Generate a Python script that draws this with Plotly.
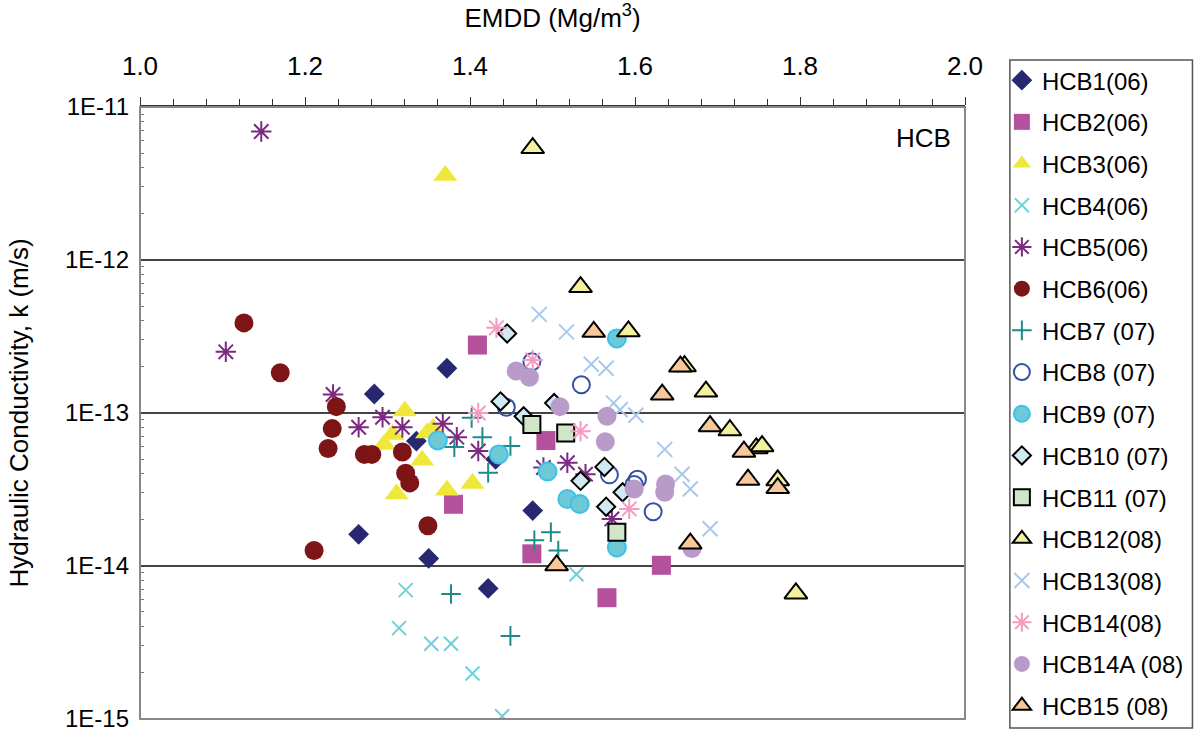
import plotly.graph_objects as go

# ---------------- data ----------------
names = ["HCB1(06)", "HCB2(06)", "HCB3(06)", "HCB4(06)", "HCB5(06)", "HCB6(06)",
         "HCB7 (07)", "HCB8 (07)", "HCB9 (07)", "HCB10 (07)", "HCB11 (07)",
         "HCB12(08)", "HCB13(08)", "HCB14(08)", "HCB14A (08)", "HCB15 (08)"]

HCB1_x = [1.284, 1.372, 1.335, 1.265, 1.350, 1.422, 1.476, 1.431]
HCB1_k = [1.33e-13, 1.96e-13, 6.55e-14, 1.61e-14, 1.12e-14, 7.13e-15, 2.30e-14, 4.98e-14]

HCB2_x = [1.409, 1.492, 1.380, 1.475, 1.566, 1.632]
HCB2_k = [2.78e-13, 6.6e-14, 2.53e-14, 1.20e-14, 6.2e-15, 1.01e-14]

HCB3_x = [1.370, 1.321, 1.306, 1.296, 1.342, 1.311, 1.372, 1.403, 1.348, 1.355]
HCB3_k = [3.56e-12, 1.03e-13, 7.24e-14, 6.22e-14, 4.91e-14, 2.95e-14, 3.13e-14, 3.46e-14, 7.41e-14, 7.9e-14]

HCB4_x = [1.322, 1.314, 1.353, 1.377, 1.403, 1.439, 1.529]
HCB4_k = [6.95e-15, 3.92e-15, 3.10e-15, 3.10e-15, 1.98e-15, 1.04e-15, 8.83e-15]

HCB5_x = [1.147, 1.104, 1.234, 1.265, 1.294, 1.318, 1.367, 1.384, 1.410, 1.489, 1.518, 1.540, 1.572]
HCB5_k = [6.91e-12, 2.51e-13, 1.32e-13, 8.07e-14, 9.38e-14, 8.07e-14, 8.49e-14, 6.95e-14, 5.64e-14,
          4.40e-14, 4.73e-14, 3.98e-14, 2.03e-14]

HCB6_x = [1.126, 1.170, 1.238, 1.233, 1.228, 1.272, 1.281, 1.318, 1.322, 1.327, 1.349, 1.211]
HCB6_k = [3.88e-13, 1.83e-13, 1.10e-13, 7.9e-14, 5.86e-14, 5.36e-14, 5.36e-14, 5.56e-14, 4.03e-14,
          3.49e-14, 1.83e-14, 1.26e-14]

HCB7_x = [1.402, 1.415, 1.381, 1.422, 1.449, 1.478, 1.498, 1.507, 1.377, 1.449]
HCB7_k = [9.29e-14, 6.95e-14, 5.98e-14, 4.07e-14, 6.08e-14, 1.47e-14, 1.66e-14, 1.26e-14, 6.55e-15, 3.49e-15]

HCB8_x = [1.475, 1.535, 1.444, 1.569, 1.603, 1.599, 1.622]
HCB8_k = [2.16e-13, 1.53e-13, 1.09e-13, 3.94e-14, 3.69e-14, 3.41e-14, 2.26e-14]

HCB9_x = [1.578, 1.361, 1.435, 1.494, 1.518, 1.533, 1.578]
HCB9_k = [3.07e-13, 6.61e-14, 5.36e-14, 4.14e-14, 2.74e-14, 2.54e-14, 1.32e-14]

HCB10_x = [1.445, 1.437, 1.502, 1.465, 1.563, 1.534, 1.585, 1.565]
HCB10_k = [3.31e-13, 1.19e-13, 1.16e-13, 9.51e-14, 4.44e-14, 3.60e-14, 3.03e-14, 2.44e-14]

HCB11_x = [1.475, 1.516, 1.578]
HCB11_k = [8.40e-14, 7.41e-14, 1.66e-14]

HCB12_x = [1.476, 1.534, 1.592, 1.660, 1.686, 1.715, 1.747, 1.754, 1.773, 1.795]
HCB12_k = [5.39e-12, 6.65e-13, 3.42e-13, 2.02e-13, 1.38e-13, 7.71e-14, 5.87e-14, 6.07e-14, 3.63e-14, 6.61e-15]

HCB13_x = [1.484, 1.517, 1.547, 1.565, 1.574, 1.582, 1.601, 1.636, 1.657, 1.667, 1.691]
HCB13_k = [4.41e-13, 3.39e-13, 2.08e-13, 1.96e-13, 1.16e-13, 1.05e-13, 9.66e-14, 5.78e-14, 3.98e-14,
           3.18e-14, 1.75e-14]

HCB14_x = [1.432, 1.476, 1.410, 1.534, 1.593]
HCB14_k = [3.60e-13, 2.22e-13, 1.0e-13, 7.60e-14, 2.36e-14]

HCB14A_x = [1.456, 1.472, 1.509, 1.566, 1.564, 1.599, 1.637, 1.636, 1.669]
HCB14A_k = [1.88e-13, 1.71e-13, 1.10e-13, 9.51e-14, 6.49e-14, 3.18e-14, 3.43e-14, 3.03e-14, 1.30e-14]

HCB15_x = [1.550, 1.655, 1.633, 1.691, 1.732, 1.737, 1.773, 1.667, 1.505]
HCB15_k = [3.39e-13, 2.01e-13, 1.32e-13, 8.19e-14, 5.58e-14, 3.66e-14, 3.23e-14, 1.40e-14, 1.01e-14]

xs = [HCB1_x, HCB2_x, HCB3_x, HCB4_x, HCB5_x, HCB6_x, HCB7_x, HCB8_x, HCB9_x, HCB10_x,
      HCB11_x, HCB12_x, HCB13_x, HCB14_x, HCB14A_x, HCB15_x]
ks = [HCB1_k, HCB2_k, HCB3_k, HCB4_k, HCB5_k, HCB6_k, HCB7_k, HCB8_k, HCB9_k, HCB10_k,
      HCB11_k, HCB12_k, HCB13_k, HCB14_k, HCB14A_k, HCB15_k]

y_tickvals = [1e-15, 1e-14, 1e-13, 1e-12, 1e-11]
y_ticktext = ["1E-15", "1E-14", "1E-13", "1E-12", "1E-11"]
x_tickvals = [1.0, 1.2, 1.4, 1.6, 1.8, 2.0]
x_ticktext = ["1.0", "1.2", "1.4", "1.6", "1.8", "2.0"]

# ---------------- styles ----------------
styles = [
    dict(symbol="diamond", size=16, color="#27286f", line=dict(width=0)),
    dict(symbol="square", size=19, color="#b4509c", line=dict(width=0)),
    dict(symbol="triangle-up", size=21, color="#efe83a", line=dict(width=0)),
    dict(symbol="x-thin-open", size=14, color="#6fd0da", line=dict(width=2, color="#6fd0da")),
    dict(symbol="asterisk-open", size=17, color="#7b2a82", line=dict(width=2, color="#7b2a82")),
    dict(symbol="circle", size=19, color="#7d1516", line=dict(width=0)),
    dict(symbol="cross-thin-open", size=14, color="#1c8b8a", line=dict(width=2, color="#1c8b8a")),
    dict(symbol="circle-open", size=17, color="#3450a8", line=dict(width=2, color="#3450a8")),
    dict(symbol="circle", size=18, color="#6ec9d6", line=dict(width=2, color="#3cc0ea")),
    dict(symbol="diamond", size=14, color="#cfeaf2", line=dict(width=2, color="#000000")),
    dict(symbol="square", size=17, color="#cfe7c8", line=dict(width=2, color="#000000")),
    dict(symbol="triangle-up", size=20, color="#f3f09e", line=dict(width=2, color="#000000")),
    dict(symbol="x-thin-open", size=15, color="#a7c9ec", line=dict(width=2, color="#a7c9ec")),
    dict(symbol="asterisk-open", size=17, color="#f59bc2", line=dict(width=2, color="#f59bc2")),
    dict(symbol="circle", size=19, color="#b89bc9", line=dict(width=0)),
    dict(symbol="triangle-up", size=20, color="#f8c89a", line=dict(width=2, color="#000000")),
]

FONT = "Liberation Sans, Arial, sans-serif"

fig = go.Figure()
for n, x, k, st in zip(names, xs, ks, styles):
    fig.add_trace(go.Scatter(
        x=x, y=k, mode="markers", name=n, legendgroup=n,
        marker=st,
    ))

fig.update_layout(
    width=1201, height=734,
    margin=dict(l=140, r=234, t=107, b=15),
    paper_bgcolor="white", plot_bgcolor="white",
    font=dict(family=FONT, size=24, color="#000"),
    showlegend=True,
    legend=dict(
        x=1.0447, y=1.080, xanchor="left", yanchor="top",
        borderwidth=0, bgcolor="rgba(0,0,0,0)",
        font=dict(family=FONT, size=24, color="#000"),
        tracegroupgap=7.5, itemwidth=30, maxheight=730,
    ),
    xaxis=dict(
        side="top", range=[1.0, 2.0], tickvals=x_tickvals, ticktext=x_ticktext,
        ticks="outside", ticklen=8, tickwidth=1, tickcolor="#333",
        minor=dict(ticks="outside", ticklen=6, dtick=0.04, tick0=1.0, tickcolor="#333", showgrid=False),
        showgrid=False, zeroline=False, showline=True, linecolor="#333", linewidth=2,
        automargin=False, ticklabelstandoff=12, ticklabeloverflow="allow",
        tickfont=dict(family=FONT, size=26),
        title=dict(text="EMDD (Mg/m<sup>3</sup>)", font=dict(family=FONT, size=26), standoff=18),
    ),
    yaxis=dict(
        type="log", range=[-15.0005, -11], tickvals=y_tickvals, ticktext=y_ticktext,
        ticks="", showgrid=True, gridcolor="#444", gridwidth=1.5,
        minor=dict(ticks="inside", ticklen=4, tickcolor="#777", showgrid=False,
                   tickvals=[m * 10.0 ** e for e in range(-15, -11) for m in range(2, 10)]),
        zeroline=False, showline=False, automargin=False, ticklabelstandoff=10,
        ticklabeloverflow="allow",
        tickfont=dict(family=FONT, size=24),
        title=dict(text="Hydraulic Conductivity, k (m/s)", font=dict(family=FONT, size=26), standoff=28),
    ),
    shapes=[
        dict(type="rect", xref="paper", yref="paper", x0=0, x1=1, y0=0, y1=1,
             line=dict(color="#888", width=2), layer="above"),
        dict(type="rect", xref="paper", yref="paper", x0=1.0544, x1=1.2757, y0=-0.0147, y1=1.0768,
             line=dict(color="#555", width=1.5), layer="below"),
    ],
    annotations=[dict(text="HCB", xref="paper", yref="paper", x=0.985, y=0.95,
                      xanchor="right", yanchor="middle", showarrow=False,
                      font=dict(family=FONT, size=26, color="#000"))],
)

fig.write_html("out.html")
